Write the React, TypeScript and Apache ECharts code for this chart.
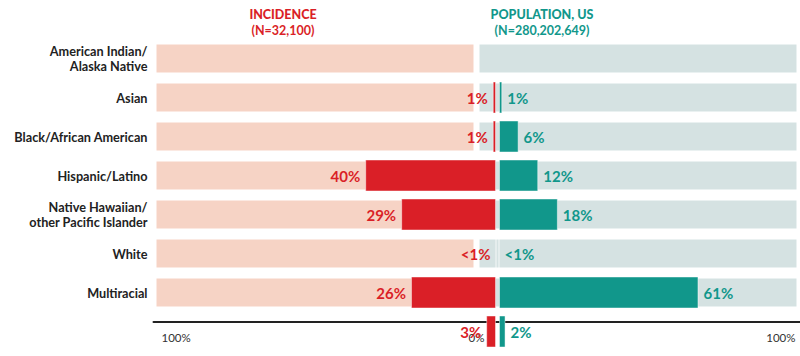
import React, { useEffect, useRef } from "react";
import * as echarts from "echarts";

const categories = [
  "American Indian/\nAlaska Native",
  "Asian",
  "Black/African American",
  "Hispanic/Latino",
  "Native Hawaiian/\nother Pacific Islander",
  "White",
  "Multiracial",
  "",
];
const incidence: (number | null)[] = [null, 1, 1, 40, 29, 0, 26, 3];
const incidenceLabels = ["", "1%", "1%", "40%", "29%", "<1%", "26%", "3%"];
const population: (number | null)[] = [null, 1, 6, 12, 18, 0, 61, 2];
const populationLabels = ["", "1%", "6%", "12%", "18%", "<1%", "61%", "2%"];
const bgCategories = categories.slice(0, 7);
const bgLeft = bgCategories.map(() => -100);
const bgRight = bgCategories.map(() => 100);
const axisTicks = [-100, 0, 100];

const RED = "#DA1F27";
const TEAL = "#11978B";
const PINK = "#F6D3C5";
const GREYTEAL = "#D5E2E2";
const FONT = "Lato";

export default function App() {
  const ref = useRef<HTMLDivElement>(null);
  useEffect(() => {
    if (!ref.current) return;
    const chart = echarts.init(ref.current, undefined, { renderer: "svg" });
    chart.setOption({
      animation: false,
      textStyle: { fontFamily: FONT },
      graphic: [
        { type: "text", x: 283, y: 14.5, style: { text: "INCIDENCE", fill: RED, font: `900 12.5px ${FONT}`, textAlign: "center", textVerticalAlign: "middle" } },
        { type: "text", x: 283, y: 30, style: { text: "(N=32,100)", fill: RED, font: `bold 12.5px ${FONT}`, textAlign: "center", textVerticalAlign: "middle" } },
        { type: "text", x: 542, y: 14.5, style: { text: "POPULATION, US", fill: TEAL, font: `900 12.5px ${FONT}`, textAlign: "center", textVerticalAlign: "middle" } },
        { type: "text", x: 542, y: 30, style: { text: "(N=280,202,649)", fill: TEAL, font: `bold 12.5px ${FONT}`, textAlign: "center", textVerticalAlign: "middle" } },
      ],
      grid: [
        { left: 153.5, width: 646, top: 39, height: 273 },
        { left: 169, width: 327, top: 39, height: 312 },
        { left: 499, width: 300, top: 39, height: 312 },
      ],
      xAxis: [
        {
          gridIndex: 0,
          type: "value",
          min: -100,
          max: 100,
          interval: 100,
          position: "bottom",
          offset: 10,
          axisLine: { show: true, lineStyle: { color: "#222", width: 2 } },
          axisTick: { show: false },
          splitLine: { show: false },
          axisLabel: {
            margin: 9,
            customValues: axisTicks,
            formatter: (v: number) =>
              v < 0 ? `{l|${Math.abs(v)}%}` : v > 0 ? `{r|${v}%}` : `{c|${v}%}`,
            rich: {
              l: { padding: [0, 0, 0, 8], fontSize: 11.5, color: "#333", fontFamily: FONT },
              r: { padding: [0, 4, 0, 0], fontSize: 11.5, color: "#333", fontFamily: FONT },
              c: { fontSize: 11.5, color: "#333", fontFamily: FONT },
            },
            alignMinLabel: "left",
            alignMaxLabel: "right",
          },
        },
        { gridIndex: 1, type: "value", min: 0, max: 100, inverse: true, show: false },
        { gridIndex: 2, type: "value", min: 0, max: 91.74, show: false },
      ],
      yAxis: [
        {
          gridIndex: 0,
          type: "category",
          data: bgCategories,
          inverse: true,
          axisLine: { show: false },
          axisTick: { show: false },
          axisLabel: {
            margin: 6,
            color: "#222",
            fontSize: 12.7,
            fontWeight: "bold",
            fontFamily: FONT,
            lineHeight: 14.5,
            align: "right",
          },
        },
        { gridIndex: 1, type: "category", data: categories, inverse: true, show: false },
        { gridIndex: 2, type: "category", data: categories, inverse: true, show: false },
      ],
      series: [
        {
          type: "bar",
          xAxisIndex: 0,
          yAxisIndex: 0,
          stack: "bg",
          data: bgLeft,
          barWidth: 34,
          itemStyle: { color: PINK, borderColor: "#fff", borderWidth: 3 },
          silent: true,
          z: 1,
        },
        {
          type: "bar",
          xAxisIndex: 0,
          yAxisIndex: 0,
          stack: "bg",
          data: bgRight,
          barWidth: 34,
          itemStyle: { color: GREYTEAL, borderColor: "#fff", borderWidth: 3 },
          silent: true,
          z: 1,
        },
        {
          type: "bar",
          xAxisIndex: 1,
          yAxisIndex: 1,
          data: incidence,
          barWidth: 32,
          itemStyle: { color: RED, borderColor: "rgba(255,255,255,0.45)", borderWidth: 1 },
          label: {
            show: true,
            position: "left",
            distance: 5,
            color: RED,
            fontSize: 15,
            fontWeight: "bold",
            fontFamily: FONT,
            formatter: (p: any) => incidenceLabels[p.dataIndex],
          },
          z: 3,
        },
        {
          type: "bar",
          xAxisIndex: 2,
          yAxisIndex: 2,
          data: population,
          barWidth: 32,
          itemStyle: { color: TEAL, borderColor: "rgba(255,255,255,0.45)", borderWidth: 1 },
          label: {
            show: true,
            position: "right",
            distance: 5,
            color: TEAL,
            fontSize: 15,
            fontWeight: "bold",
            fontFamily: FONT,
            formatter: (p: any) => populationLabels[p.dataIndex],
          },
          z: 3,
        },
      ],
    });
    return () => chart.dispose();
  }, []);
  return <div ref={ref} style={{ width: 800, height: 356, position: "absolute", left: 0, top: 0 }} />;
}
